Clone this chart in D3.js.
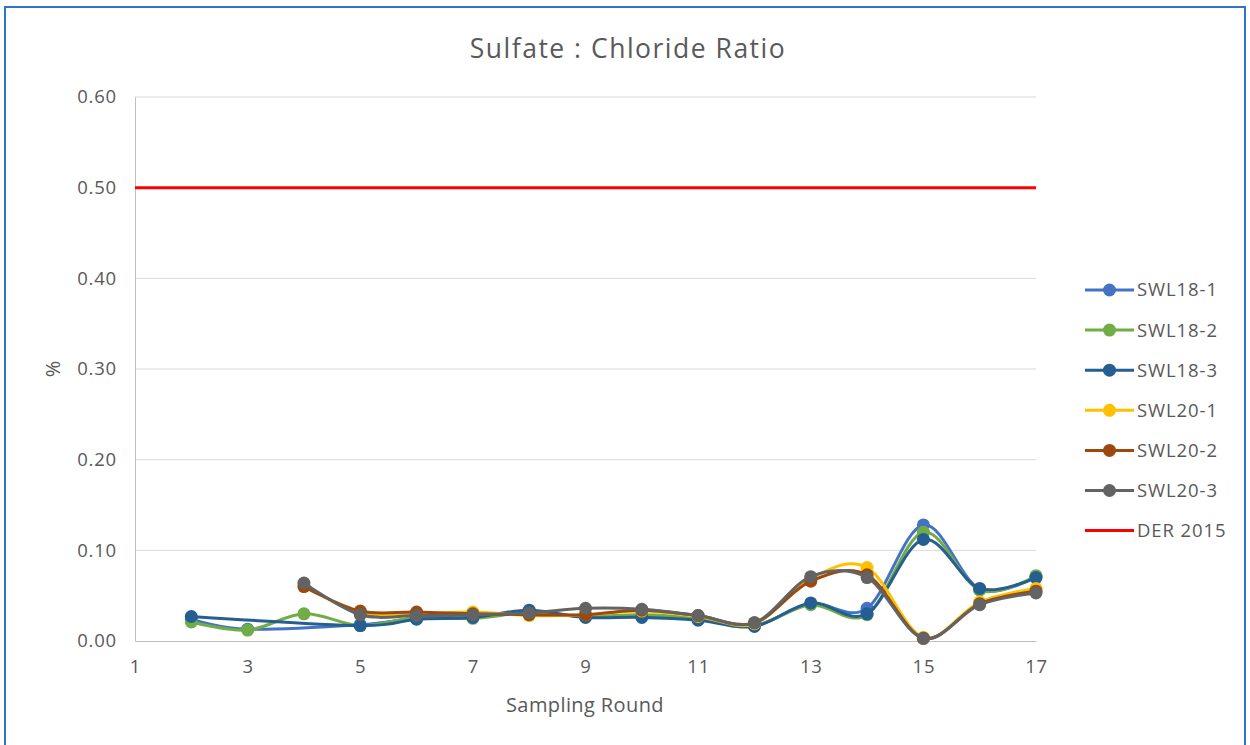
<!DOCTYPE html>
<html><head><meta charset="utf-8">
<script src="https://cdn.jsdelivr.net/npm/d3@7"></script>
<style>body{margin:0;background:#fff}svg{display:block}</style>
</head><body>
<svg id="c" width="1250" height="745"></svg>
<script>
const rounds = [2,3,4,5,6,7,8,9,10,11,12,13,14,15,16,17];
const swl18_1 = [0.024,0.013,null,0.018,0.025,0.026,0.031,0.027,0.028,0.024,0.017,0.041,0.036,0.128,0.057,0.071];
const swl18_2 = [0.021,0.012,0.030,0.017,0.026,0.025,0.031,0.027,0.029,0.025,0.017,0.040,0.029,0.120,0.056,0.072];
const swl18_3 = [0.027,null,null,0.017,0.024,0.026,0.034,0.026,0.026,0.023,0.016,0.042,0.030,0.112,0.058,0.070];
const swl20_1 = [null,null,0.061,0.031,0.030,0.032,0.028,0.029,0.033,0.027,0.019,0.069,0.081,0.004,0.043,0.058];
const swl20_2 = [null,null,0.060,0.033,0.032,0.030,0.029,0.029,0.034,0.028,0.020,0.066,0.073,0.003,0.041,0.055];
const swl20_3 = [null,null,0.064,0.029,0.028,0.029,0.031,0.036,0.035,0.028,0.020,0.071,0.070,0.003,0.040,0.053];
const der2015 = 0.5;
const seriesNames = ["SWL18-1","SWL18-2","SWL18-3","SWL20-1","SWL20-2","SWL20-3"];
const seriesColors = ["#4472C4","#70AD47","#255E91","#FFC000","#9E480E","#636363"];
const xTicks = [1,3,5,7,9,11,13,15,17];
const yTicks = [0,0.1,0.2,0.3,0.4,0.5,0.6];

const svg = d3.select("#c");
const font = "'Open Sans', sans-serif";
const txt = "#595959";

// frame
svg.append("rect").attr("x",5).attr("y",7).attr("width",1240).attr("height",760)
  .attr("fill","#fff").attr("stroke","#2E75C6").attr("stroke-width",2);

const x = d3.scaleLinear().domain([1,17]).range([135,1036]);
const y = d3.scaleLinear().domain([0,0.6]).range([641,97]);

// grid
svg.append("g").selectAll("line").data(yTicks.filter(d=>d>0)).join("line")
  .attr("x1",x(1)).attr("x2",x(17)).attr("y1",d=>y(d)).attr("y2",d=>y(d))
  .attr("stroke","#D9D9D9").attr("stroke-width",1);
// axes
const yAxis = svg.append("g").attr("transform",`translate(${x(1)},0)`)
  .call(d3.axisLeft(y).tickValues(yTicks).tickFormat(d3.format(".2f")).tickSize(0).tickPadding(18));
yAxis.select(".domain").attr("stroke","#BFBFBF");
yAxis.selectAll("text").attr("font-family",font).attr("font-size",18.5).attr("letter-spacing",0.8).attr("fill",txt);
const xAxis = svg.append("g").attr("transform",`translate(0,${y(0)})`)
  .call(d3.axisBottom(x).tickValues(xTicks).tickFormat(d3.format("d")).tickSize(0).tickPadding(19));
xAxis.select(".domain").attr("stroke","#BFBFBF");
xAxis.selectAll("text").attr("font-family",font).attr("font-size",18.5).attr("letter-spacing",0.8).attr("fill",txt);

// threshold line
svg.append("line").attr("x1",x(1)).attr("x2",x(17)).attr("y1",y(der2015)).attr("y2",y(der2015))
  .attr("stroke","#FF0000").attr("stroke-width",3);

const allSeries = [swl18_1,swl18_2,swl18_3,swl20_1,swl20_2,swl20_3];
const line = d3.line().x(d=>x(d[0])).y(d=>y(d[1])).curve(d3.curveCatmullRom.alpha(0));
allSeries.forEach((vals,i)=>{
  const pts = rounds.map((r,j)=>[r,vals[j]]).filter(p=>p[1]!==null);
  const g = svg.append("g");
  g.append("path").attr("d",line(pts)).attr("fill","none")
    .attr("stroke",seriesColors[i]).attr("stroke-width",3).attr("stroke-linejoin","round");
  g.selectAll("circle").data(pts).join("circle")
    .attr("cx",d=>x(d[0])).attr("cy",d=>y(d[1])).attr("r",6.5).attr("fill",seriesColors[i]);
});

// title
svg.append("text").attr("x",628).attr("y",58).attr("text-anchor","middle")
  .attr("font-family",font).attr("font-size",26.5).attr("letter-spacing",1.5).attr("fill",txt).text("Sulfate : Chloride Ratio");
svg.append("text").attr("x",585).attr("y",712).attr("text-anchor","middle")
  .attr("font-family",font).attr("font-size",20).attr("letter-spacing",0.4).attr("fill",txt).text("Sampling Round");
svg.append("text").attr("transform","translate(60,369) rotate(-90)").attr("text-anchor","middle")
  .attr("font-family",font).attr("font-size",20).attr("fill",txt).text("%");

// legend
const legNames = seriesNames.concat(["DER 2015"]);
const legColors = seriesColors.concat(["#FF0000"]);
const lg = svg.append("g");
legNames.forEach((n,i)=>{
  const yy = 290 + i*40.1;
  lg.append("line").attr("x1",1085).attr("x2",1134).attr("y1",yy).attr("y2",yy)
    .attr("stroke",legColors[i]).attr("stroke-width",3);
  if(i<6) lg.append("circle").attr("cx",1109.5).attr("cy",yy).attr("r",6.5).attr("fill",legColors[i]);
  lg.append("text").attr("x",1137).attr("y",yy).attr("dy","0.35em")
    .attr("font-family",font).attr("font-size",18.5).attr("letter-spacing",0.9).attr("fill",txt).text(n);
});
</script>
</body></html>
